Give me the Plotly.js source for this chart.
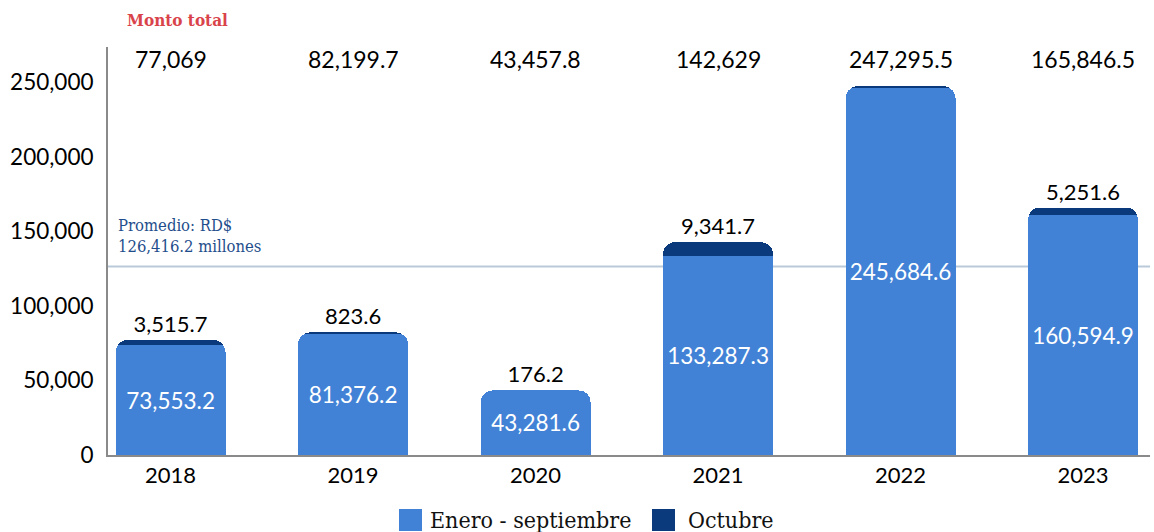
<!DOCTYPE html>
<html><head><meta charset="utf-8">
<script src="https://cdn.plot.ly/plotly-3.0.1.min.js"></script>
<style>body{margin:0;background:#fff}#c{width:1154px;height:532px}</style>
</head><body><div id="c"></div>
<script>
const years = ['2018','2019','2020','2021','2022','2023'];
const eneroSep = [73553.2, 81376.2, 43281.6, 133287.3, 245684.6, 160594.9];
const octubre = [3515.7, 823.6, 176.2, 9341.7, 1610.9, 5251.6];
const octubreLabels = ['3,515.7','823.6','176.2','9,341.7','','5,251.6'];
const eneroLabels = ['73,553.2','81,376.2','43,281.6','133,287.3','245,684.6','160,594.9'];
const totalLabels = ['77,069','82,199.7','43,457.8','142,629','247,295.5','165,846.5'];
const seriesNames = ['Enero - septiembre','Octubre'];
const promedio = 126416.2;

const LIGHT = '#4282d6', DARK = '#0a3a7c';
const NUM = 'Lato, sans-serif', SERIF = '"DejaVu Serif Condensed", "DejaVu Serif", serif';

const W = 1154, H = 532, ML = 108, MR = 4, MT = 47, MB = 77;
const PW = W-ML-MR, PH = H-MT-MB;
const px = v => (v-ML)/PW, py = v => (H-MB-v)/PH;

const traces = [
  {type:'bar', name:seriesNames[0], x:years, y:eneroSep, width:0.603,
   marker:{color:LIGHT}, text:eneroLabels, textposition:'inside', insidetextanchor:'middle',
   textfont:{family:NUM, size:22.5, color:'#ffffff'}, constraintext:'none', hoverinfo:'skip'},
  {type:'bar', name:seriesNames[1], x:years, y:octubre, width:0.603,
   marker:{color:DARK}, text:octubreLabels, textposition:'outside',
   textfont:{family:NUM, size:22, color:'#000000'}, constraintext:'none', cliponaxis:false, hoverinfo:'skip'}
];

const annotations = years.map((yr,i)=>({x:i, xref:'x', y:py(59), yref:'paper', text:totalLabels[i],
  showarrow:false, font:{family:NUM, size:23, color:'#000'}, yanchor:'middle'}));
annotations.push({x:px(177), xref:'paper', y:py(20), yref:'paper', text:'<b>Monto total</b>', showarrow:false,
  font:{family:SERIF, size:17, color:'#d9434a'}, yanchor:'middle', xanchor:'center'});
annotations.push({x:px(116), xref:'paper', y:promedio, yref:'y', yshift:8, text:'Promedio: RD$<br>126,416.2 millones',
  showarrow:false, xanchor:'left', yanchor:'bottom', align:'left',
  font:{family:SERIF, size:16.5, color:'#1f4e8c'}});
// legend (drawn manually for large swatches)
annotations.push({x:px(428), xref:'paper', y:py(520), yref:'paper', text:seriesNames[0], showarrow:false,
  xanchor:'left', yanchor:'middle', font:{family:SERIF, size:23, color:'#111'}});
annotations.push({x:px(686), xref:'paper', y:py(520), yref:'paper', text:seriesNames[1], showarrow:false,
  xanchor:'left', yanchor:'middle', font:{family:SERIF, size:23, color:'#111'}});

const layout = {
  width:W, height:H,
  margin:{l:ML, r:MR, t:MT, b:MB},
  barmode:'stack', barcornerradius:12,
  paper_bgcolor:'#fff', plot_bgcolor:'#fff',
  showlegend:false,
  xaxis:{type:'category', range:[-0.343, 5.367], showline:true, linecolor:'#8a8a8a', linewidth:2,
    ticks:'', tickfont:{family:NUM, size:22, color:'#000'}, showgrid:false, fixedrange:true},
  yaxis:{range:[0, 273500], tickvals:[0,50000,100000,150000,200000,250000], tickformat:',',
    showline:true, linecolor:'#8a8a8a', linewidth:2, showgrid:false, zeroline:false, ticks:'',
    ticklabelstandoff:8, tickfont:{family:NUM, size:22.5, color:'#000'}, fixedrange:true},
  shapes:[
    {type:'line', xref:'paper', x0:0, x1:1, yref:'y', y0:promedio, y1:promedio,
     line:{color:'#b9c9da', width:2}, layer:'below'},
    {type:'rect', xref:'paper', yref:'paper', x0:px(399), x1:px(422), y0:py(509), y1:py(531),
     fillcolor:LIGHT, line:{width:0}},
    {type:'rect', xref:'paper', yref:'paper', x0:px(652), x1:px(675), y0:py(509), y1:py(531),
     fillcolor:DARK, line:{width:0}}
  ],
  annotations:annotations
};
Plotly.newPlot('c', traces, layout, {displayModeBar:false, staticPlot:true});
</script></body></html>
